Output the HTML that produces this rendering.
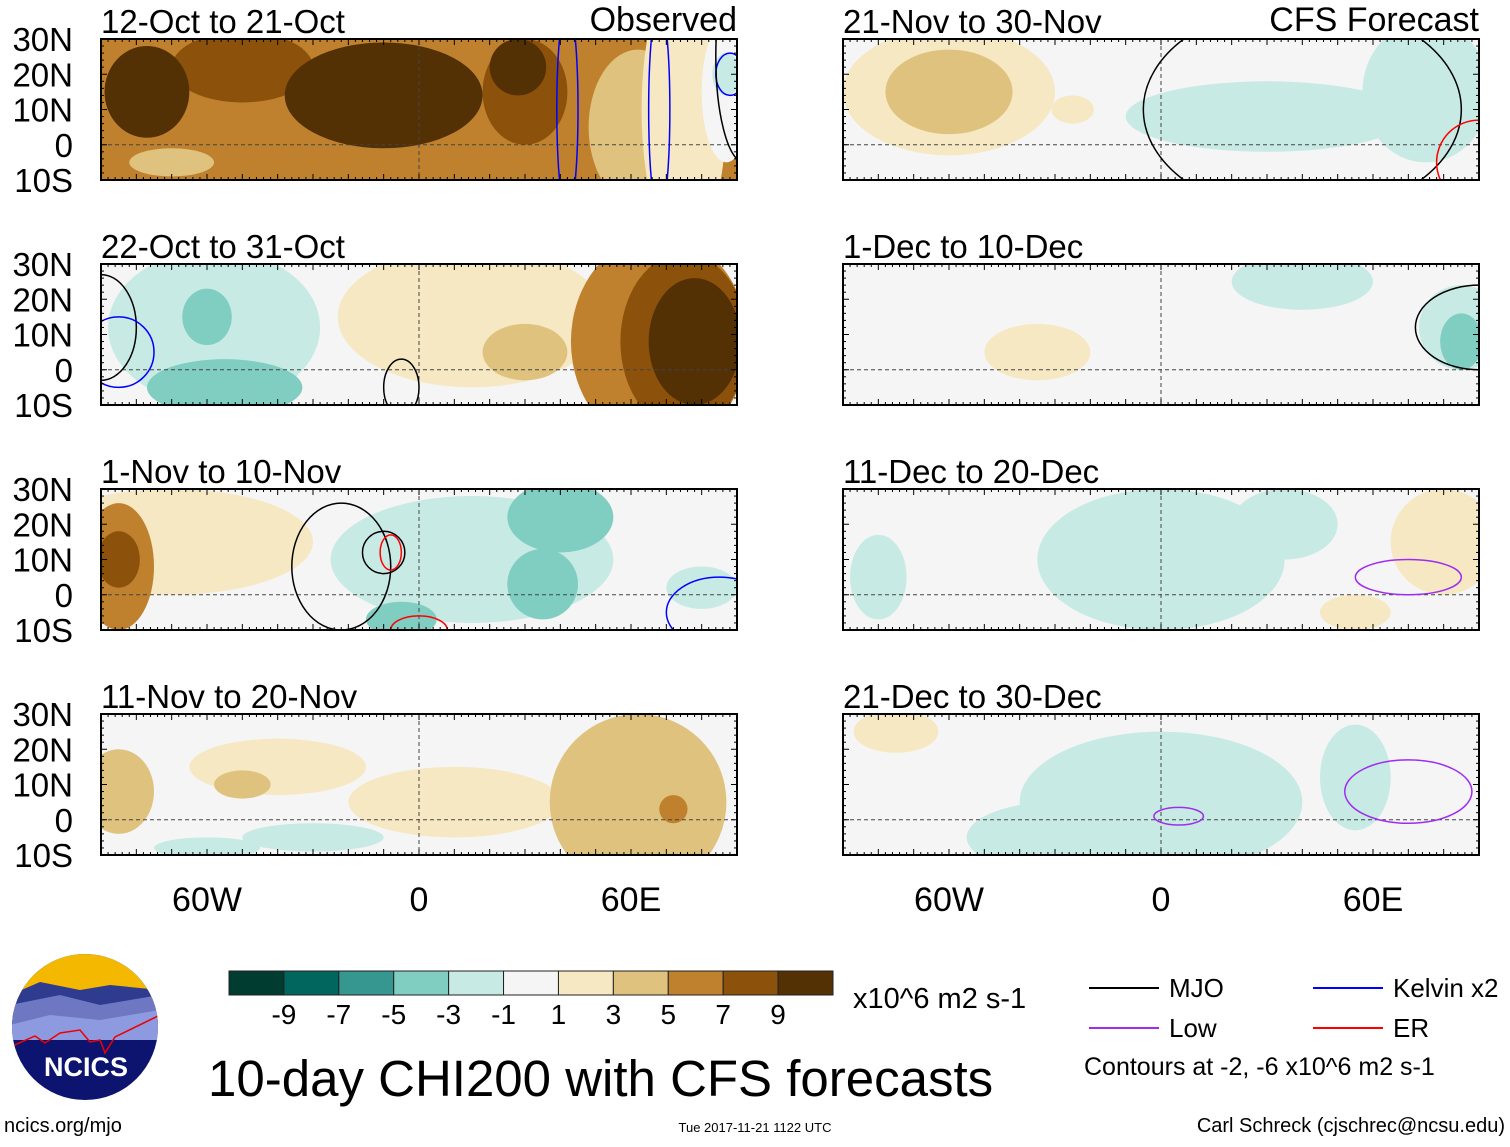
<!DOCTYPE html>
<html><head><meta charset="utf-8"><style>
body{margin:0;background:#fff;width:1510px;height:1142px;overflow:hidden;font-family:"Liberation Sans",sans-serif}
svg text{font-family:"Liberation Sans",sans-serif;fill:#000}
</style></head><body>
<svg id="chart" width="1510" height="1142"></svg>
<script>
// ---- data ----
const levels = [-10,-8,-6,-4,-2,0,2,4,6,8,10];
const levelColors = ["#003c30","#01665e","#35978f","#80cdc1","#c7eae5","#f5f5f5","#f6e8c3","#dfc27d","#bf812d","#8c510a","#543005"];
const colorbarTicks = ["-9","-7","-5","-3","-1","1","3","5","7","9"];
const panelTitles = ["12-Oct to 21-Oct","22-Oct to 31-Oct","1-Nov to 10-Nov","11-Nov to 20-Nov","21-Nov to 30-Nov","1-Dec to 10-Dec","11-Dec to 20-Dec","21-Dec to 30-Dec"];
const latTicks = [30,20,10,0,-10];
const latLabels = ["30N","20N","10N","0","10S"];
const lonTicks = [-60,0,60];
const lonLabels = ["60W","0","60E"];
// anomaly blobs: [lon, lat, rxDeg, ryDeg, value]
const blobs1 = [[0,10,220,80,6],[-50,22,20,10,8],[30,15,12,15,8],[-77,15,12,13,10],[-10,14,28,15,10],[28,22,8,8,10],[-70,-5,12,4,4],[62,5,14,22,4],[75,10,12,40,2],[87,15,7,20,0],[87,20,4,6,-2]];
const blobs2 = [[0,10,220,80,0],[-58,12,30,22,-2],[-55,-5,22,8,-4],[-60,15,7,8,-4],[15,15,38,20,2],[30,5,12,8,4],[68,8,25,30,6],[75,8,18,25,8],[78,8,13,18,10]];
const blobs3 = [[0,10,220,80,0],[-70,15,40,15,2],[-85,8,10,18,6],[-85,10,6,8,8],[15,10,40,18,-2],[40,22,15,10,-4],[35,3,10,10,-4],[-5,-7,10,5,-4],[80,2,10,6,-2]];
const blobs4 = [[0,10,220,80,0],[-40,15,25,8,2],[-50,10,8,4,4],[10,5,30,10,2],[-85,8,10,12,4],[62,5,25,25,4],[72,3,4,4,6],[-30,-5,20,4,-2],[-60,-8,15,3,-2]];
const blobs5 = [[0,10,220,80,0],[-60,15,30,18,2],[-60,15,18,12,4],[30,8,40,10,-2],[75,15,18,20,-2],[-25,10,6,4,2]];
const blobs6 = [[0,10,220,80,0],[-35,5,15,8,2],[85,12,12,12,-2],[85,8,6,8,-4],[40,25,20,8,-2]];
const blobs7 = [[0,10,220,80,0],[0,10,35,20,-2],[35,20,15,10,-2],[80,15,15,15,2],[55,-5,10,5,2],[-80,5,8,12,-2]];
const blobs8 = [[0,10,220,80,0],[0,5,40,20,-2],[-30,-5,25,10,-2],[55,12,10,15,-2],[-75,25,12,6,2]];
const panelBlobs = [blobs1,blobs2,blobs3,blobs4,blobs5,blobs6,blobs7,blobs8];
// contours: [lon, lat, rx, ry, type]
const contours1 = [[42,10,3,30,"kelvin"],[68,10,3,30,"kelvin"],[88,20,4,6,"kelvin"],[92,25,8,30,"mjo"]];
const contours2 = [[-90,12,10,15,"mjo"],[-85,5,10,10,"kelvin"],[-5,-5,5,8,"mjo"]];
const contours3 = [[-22,8,14,18,"mjo"],[-10,12,6,6,"mjo"],[-8,12,3,5,"er"],[0,-10,8,4,"er"],[85,-5,15,10,"kelvin"]];
const contours4 = [];
const contours5 = [[40,10,45,30,"mjo"],[90,-5,12,12,"er"]];
const contours6 = [[90,12,18,12,"mjo"]];
const contours7 = [[70,5,15,5,"low"]];
const contours8 = [[70,8,18,9,"low"],[5,1,7,2.5,"low"]];
const panelContours = [contours1,contours2,contours3,contours4,contours5,contours6,contours7,contours8];
const contourColors = {mjo:"#000",kelvin:"#0000ff",er:"#ff0000",low:"#9f2cf0"};

// ---- drawing ----
const NS="http://www.w3.org/2000/svg";
const svg=document.getElementById('chart');
function mk(tag,attrs,parent){const e=document.createElementNS(NS,tag);for(const k in attrs)e.setAttribute(k,attrs[k]);(parent||svg).appendChild(e);return e;}
function colorFor(v){for(let i=0;i<levels.length;i++){if(v<=levels[i])return levelColors[i];}return levelColors[levelColors.length-1];}
const PW=636,PH=141;const panelX=[101,843];const panelY=[39,264,489,714];
const defs=mk('defs',{});
for(let p=0;p<8;p++){
  const x0=panelX[p<4?0:1],y0=panelY[p%4];
  const xs=lon=>x0+(lon+90)/180*PW;
  const ys=lat=>y0+(30-lat)/40*PH;
  const cp=mk('clipPath',{id:'clip'+p},defs);mk('rect',{x:x0,y:y0,width:PW,height:PH},cp);
  const g=mk('g',{'clip-path':'url(#clip'+p+')'});
  
  
  panelBlobs[p].forEach(b=>{
    const e=mk('ellipse',{cx:xs(b[0]),cy:ys(b[1]),rx:b[2]/180*PW,ry:b[3]/40*PH,fill:colorFor(b[4])},g);
    
    
  });
  mk('line',{x1:x0,x2:x0+PW,y1:ys(0),y2:ys(0),stroke:'#444','stroke-dasharray':'4,3','stroke-width':1},g);
  mk('line',{x1:xs(0),x2:xs(0),y1:y0,y2:y0+PH,stroke:'#444','stroke-dasharray':'4,3','stroke-width':1},g);
  panelContours[p].forEach(c=>{
    const e=mk('ellipse',{cx:xs(c[0]),cy:ys(c[1]),rx:c[2]/180*PW,ry:c[3]/40*PH,fill:'none',stroke:contourColors[c[4]],'stroke-width':1.5},g);
    
    
  });
  const fr=mk('rect',{x:x0,y:y0,width:PW,height:PH,fill:'none',stroke:'#000','stroke-width':2});
  
  
  for(let lon=-90;lon<=90;lon+=2){
    const l=lon%10===0?6:3;
    mk('line',{x1:xs(lon),x2:xs(lon),y1:y0,y2:y0+l,stroke:'#000'});
    mk('line',{x1:xs(lon),x2:xs(lon),y1:y0+PH,y2:y0+PH-l,stroke:'#000'});
  }
  for(let lat=-10;lat<=30;lat+=2){
    const l=lat%10===0?6:3;
    mk('line',{x1:x0,x2:x0+l,y1:ys(lat),y2:ys(lat),stroke:'#000'});
    mk('line',{x1:x0+PW,x2:x0+PW-l,y1:ys(lat),y2:ys(lat),stroke:'#000'});
  }
  const t=mk('text',{x:x0,y:y0-6,'font-size':33});t.textContent=panelTitles[p];
  
  
  if(p<4){
    latTicks.forEach((lat,i)=>{const tt=mk('text',{x:73,y:ys(lat)+12,'font-size':33,'text-anchor':'end'});tt.textContent=latLabels[i];
      
      });
  }
  if(p%4===3){
    lonTicks.forEach((lon,i)=>{const tt=mk('text',{x:xs(lon),y:911,'font-size':34,'text-anchor':'middle'});tt.textContent=lonLabels[i];
      
      });
  }
}
const h1=mk('text',{x:737,y:31,'font-size':34,'text-anchor':'end'});h1.textContent='Observed';

const h2=mk('text',{x:1479,y:31,'font-size':34,'text-anchor':'end'});h2.textContent='CFS Forecast';

// colorbar
const cbX=229,cbW=604,cbY=971,cbH=24;const bw=cbW/levelColors.length;
levelColors.forEach((c,i)=>{const r=mk('rect',{x:cbX+i*bw,y:cbY,width:bw,height:cbH,fill:c,stroke:'#222','stroke-width':1});
  });
colorbarTicks.forEach((s,i)=>{const t=mk('text',{x:cbX+(i+1)*bw,y:1024,'font-size':28,'text-anchor':'middle'});t.textContent=s;
  });
const un=mk('text',{x:853,y:1008,'font-size':29});un.textContent='x10^6 m2 s-1';

const ti=mk('text',{x:208,y:1096,'font-size':51});ti.textContent='10-day CHI200 with CFS forecasts';

// legend
const leg=[["MJO","mjo",1089,988],["Kelvin x2","kelvin",1313,988],["Low","low",1089,1028],["ER","er",1313,1028]];
leg.forEach(l=>{const ln=mk('line',{x1:l[2],x2:l[2]+70,y1:l[3],y2:l[3],stroke:contourColors[l[1]],'stroke-width':2});
  
  const t=mk('text',{x:l[2]+80,y:l[3]+9,'font-size':26});t.textContent=l[0];
  });
const ct=mk('text',{x:1084,y:1075,'font-size':25});ct.textContent='Contours at -2, -6 x10^6 m2 s-1';

const f1=mk('text',{x:4,y:1132,'font-size':20});f1.textContent='ncics.org/mjo';

const f2=mk('text',{x:755,y:1132,'font-size':13,'text-anchor':'middle'});f2.textContent='Tue 2017-11-21 1122 UTC';

const f3=mk('text',{x:1505,y:1132,'font-size':20,'text-anchor':'end'});f3.textContent='Carl Schreck (cjschrec@ncsu.edu)';

// logo
const lg=mk('g',{});
const lc=mk('clipPath',{id:'logoclip'},defs);mk('circle',{cx:85,cy:1027,r:73},lc);
const lgi=mk('g',{'clip-path':'url(#logoclip)'},lg);
mk('rect',{x:10,y:950,width:150,height:160,fill:'#0d1470'},lgi);
mk('rect',{x:10,y:950,width:150,height:45,fill:'#f5b800'},lgi);
mk('path',{d:'M10 995 L40 982 L80 990 L110 985 L160 990 L160 1020 L10 1020Z',fill:'#2f3b8f'},lgi);
mk('path',{d:'M10 1005 L60 995 L100 1005 L160 995 L160 1030 L10 1030Z',fill:'#6e77c2'},lgi);
mk('path',{d:'M10 1025 L50 1015 L100 1020 L160 1010 L160 1040 L10 1040Z',fill:'#8e9ae0'},lgi);
mk('path',{d:'M10 1047 L35 1036 L45 1043 L60 1033 L80 1030 L90 1042 L100 1040 L105 1053 L115 1037 L160 1015',fill:'none',stroke:'#e00','stroke-width':1.5},lgi);
const lt=mk('text',{x:86,y:1076,'font-size':27,'font-weight':'bold','text-anchor':'middle'},lg);lt.textContent='NCICS';
lt.setAttribute('style','fill:#fff');
</script>
</body></html>
